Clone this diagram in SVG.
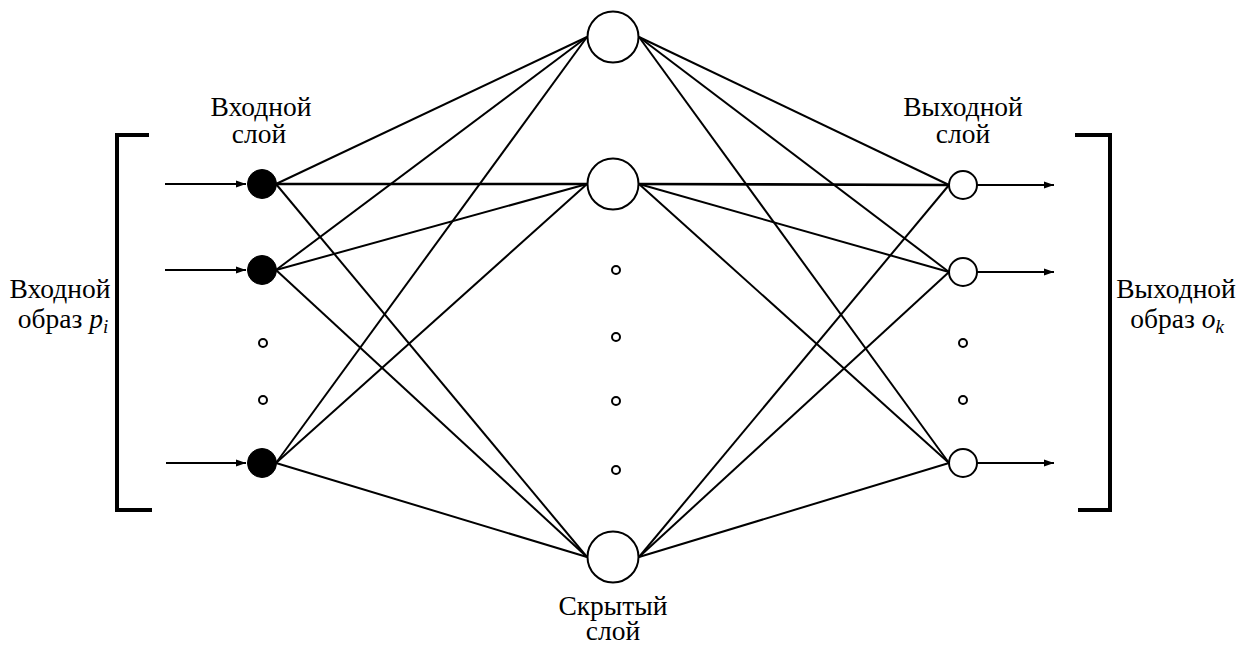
<svg xmlns="http://www.w3.org/2000/svg" width="1237" height="645" viewBox="0 0 1237 645">
  <style>
    .lbl { font-family: "Liberation Serif", "Times New Roman", serif; font-size: 27.5px; fill: #000; }
    .it { font-style: italic; }
    .sub { font-style: italic; font-size: 19px; }
    .edge { stroke: #000; stroke-width: 2; fill: none; }
    .heavy { stroke-width: 2.6; }
    .bracket { stroke: #000; stroke-width: 4; fill: none; }
    .hid { fill: #fff; stroke: #000; stroke-width: 2; }
    .inp { fill: #000; stroke: #000; stroke-width: 1; }
    .dot { fill: #fff; stroke: #000; stroke-width: 2; }
  </style>
  <defs>
    <marker id="arrow" viewBox="0 0 10 10" refX="10" refY="5" markerWidth="6" markerHeight="5" markerUnits="strokeWidth" orient="auto">
      <path d="M0,1.5 L10,5 L0,8.5 Z" fill="#000"/>
    </marker>
  </defs>
  <rect width="1237" height="645" fill="#fff"/>

  <!-- brackets around input and output patterns -->
  <g id="bracket-left">
    <path class="bracket" d="M149,135 H117 V510 H152"/>
  </g>
  <g id="bracket-right">
    <path class="bracket" d="M1075,135 H1110 V510 H1078"/>
  </g>

  <!-- connectors -->
  <g id="connectors">
    <!-- input arrows -->
    <line class="edge" x1="165" y1="184" x2="246" y2="184" marker-end="url(#arrow)"/>
    <line class="edge" x1="165" y1="270" x2="246" y2="270" marker-end="url(#arrow)"/>
    <line class="edge" x1="166" y1="463" x2="246" y2="463" marker-end="url(#arrow)"/>
    <!-- input -> hidden -->
    <line class="edge" x1="276" y1="184" x2="587" y2="37"/>
    <line class="edge heavy" x1="276" y1="184" x2="587" y2="184"/>
    <line class="edge" x1="276" y1="184" x2="587" y2="557"/>
    <line class="edge" x1="276" y1="270" x2="587" y2="37"/>
    <line class="edge" x1="276" y1="270" x2="587" y2="184"/>
    <line class="edge" x1="276" y1="270" x2="587" y2="557"/>
    <line class="edge" x1="276" y1="463" x2="587" y2="37"/>
    <line class="edge" x1="276" y1="463" x2="587" y2="184"/>
    <line class="edge" x1="276" y1="463" x2="587" y2="557"/>
    <!-- hidden -> output -->
    <line class="edge" x1="639" y1="37" x2="949" y2="185"/>
    <line class="edge" x1="639" y1="37" x2="949" y2="272"/>
    <line class="edge" x1="639" y1="37" x2="949" y2="463"/>
    <line class="edge heavy" x1="639" y1="184" x2="949" y2="185"/>
    <line class="edge" x1="639" y1="184" x2="949" y2="272"/>
    <line class="edge" x1="639" y1="184" x2="949" y2="463"/>
    <line class="edge" x1="639" y1="557" x2="949" y2="185"/>
    <line class="edge" x1="639" y1="557" x2="949" y2="272"/>
    <line class="edge" x1="639" y1="557" x2="949" y2="463"/>
    <!-- output arrows -->
    <line class="edge" x1="977" y1="185" x2="1054" y2="185" marker-end="url(#arrow)"/>
    <line class="edge" x1="977" y1="272" x2="1054" y2="272" marker-end="url(#arrow)"/>
    <line class="edge" x1="977" y1="463" x2="1054" y2="463" marker-end="url(#arrow)"/>
  </g>

  <!-- input layer -->
  <g id="input-1"><circle class="inp" cx="262" cy="184" r="14.5"/></g>
  <g id="input-2"><circle class="inp" cx="262" cy="270" r="14.5"/></g>
  <g id="input-dots">
    <circle class="dot" cx="263" cy="343" r="4"/>
    <circle class="dot" cx="263" cy="400" r="4"/>
  </g>
  <g id="input-n"><circle class="inp" cx="262" cy="463" r="14.5"/></g>

  <!-- hidden layer -->
  <g id="hidden-1"><circle class="hid" cx="613" cy="37" r="25.5"/></g>
  <g id="hidden-2"><circle class="hid" cx="613" cy="184" r="25.5"/></g>
  <g id="hidden-dots">
    <circle class="dot" cx="616" cy="270" r="4"/>
    <circle class="dot" cx="616" cy="337" r="4"/>
    <circle class="dot" cx="616" cy="401" r="4"/>
    <circle class="dot" cx="616" cy="470" r="4"/>
  </g>
  <g id="hidden-n"><circle class="hid" cx="613" cy="557" r="25.5"/></g>

  <!-- output layer -->
  <g id="output-1"><circle class="hid" cx="963" cy="185" r="14"/></g>
  <g id="output-2"><circle class="hid" cx="963" cy="272" r="14"/></g>
  <g id="output-dots">
    <circle class="dot" cx="963" cy="343" r="4"/>
    <circle class="dot" cx="963" cy="400" r="4"/>
  </g>
  <g id="output-n"><circle class="hid" cx="963" cy="463" r="14"/></g>

  <!-- labels -->
  <g id="label-input-layer">
    <text class="lbl" x="261" y="116" text-anchor="middle">Входной</text>
    <text class="lbl" x="259" y="143" text-anchor="middle">слой</text>
  </g>
  <g id="label-output-layer">
    <text class="lbl" x="963" y="116" text-anchor="middle">Выходной</text>
    <text class="lbl" x="963" y="143" text-anchor="middle">слой</text>
  </g>
  <g id="label-hidden-layer">
    <text class="lbl" x="613" y="615" text-anchor="middle">Скрытый</text>
    <text class="lbl" x="613" y="640" text-anchor="middle">слой</text>
  </g>
  <g id="label-input-pattern">
    <text class="lbl" x="60" y="298" text-anchor="middle">Входной</text>
    <text class="lbl" x="63" y="328" text-anchor="middle">образ <tspan class="it">p</tspan><tspan class="sub" dy="5">i</tspan></text>
  </g>
  <g id="label-output-pattern">
    <text class="lbl" x="1176" y="298" text-anchor="middle">Выходной</text>
    <text class="lbl" x="1177" y="328" text-anchor="middle">образ <tspan class="it">o</tspan><tspan class="sub" dy="5">k</tspan></text>
  </g>
</svg>
